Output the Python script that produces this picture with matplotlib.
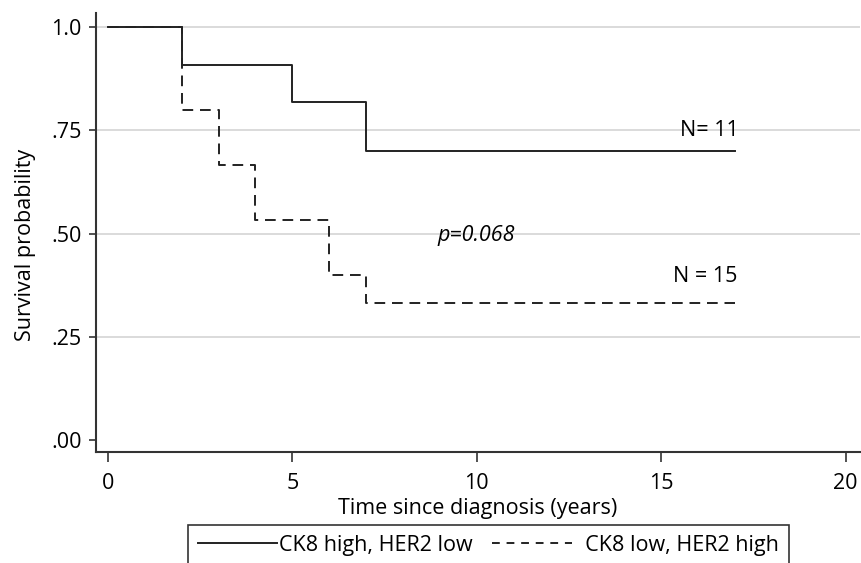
import matplotlib.pyplot as plt
from matplotlib.lines import Line2D

# Kaplan-Meier step data
t_high = [0, 2, 5, 7, 17]
s_high = [1.0, 0.909, 0.818, 0.701, 0.701]
t_low = [0, 2, 3, 4, 6, 7, 17]
s_low = [1.0, 0.80, 0.667, 0.533, 0.40, 0.333, 0.333]

yticks = [0, 0.25, 0.5, 0.75, 1.0]
ytick_labels = ['.00', '.25', '.50', '.75', '1.0']
xticks = [0, 5, 10, 15, 20]
groups = ['CK8 high, HER2 low', '  CK8 low, HER2 high']

plt.rcParams['font.family'] = ['Open Sans', 'DejaVu Sans']
fs = 15.5

fig = plt.figure(figsize=(8.62, 5.63), dpi=100)
ax = fig.add_axes([0.111, 0.197, 0.887, 0.78])

for y in [0.25, 0.5, 0.75, 1.0]:
    ax.axhline(y, color='#d4d4d4', lw=1.2, zorder=0)

ax.step(t_high, s_high, where='post', color='#222222', lw=1.4)
ax.step(t_low, s_low, where='post', color='#222222', lw=1.4, linestyle=(0, (5.5, 3.5)))

ax.text(16.3, 0.75, 'N= 11', fontsize=fs, ha='center', va='center')
ax.text(10.0, 0.496, 'p=0.068', fontsize=fs, style='italic', ha='center', va='center')
ax.text(16.2, 0.395, 'N = 15', fontsize=fs, ha='center', va='center')

ax.set_xlim(-0.33, 20.4)
ax.set_ylim(-0.029, 1.034)
ax.set_xticks(xticks)
ax.set_yticks(yticks)
ax.set_yticklabels(ytick_labels)
ax.tick_params(labelsize=fs, width=1.2, color='#333333')
ax.tick_params(axis='x', length=7, pad=8)
ax.tick_params(axis='y', length=5, pad=5)
ax.set_xlabel('Time since diagnosis (years)', fontsize=fs, labelpad=3)
fig.text(26 / 862, 1 - 245 / 563, 'Survival probability', fontsize=fs,
         rotation=90, ha='center', va='center')

for side in ['top', 'right']:
    ax.spines[side].set_visible(False)
for side in ['left', 'bottom']:
    ax.spines[side].set_linewidth(1.5)
    ax.spines[side].set_color('#333333')

# legend handles with the short dashes of the original key
h1 = Line2D([], [], color='#222222', lw=1.4)
h2 = Line2D([], [], color='#222222', lw=1.4, linestyle=(0, (4, 3.5)))
leg = fig.legend([h1, h2], groups,
                 loc='upper left', bbox_to_anchor=(188 / 862, 1 - 525 / 563),
                 ncol=2, fontsize=fs, handlelength=3.7, handletextpad=0.1,
                 columnspacing=0.9, frameon=True, fancybox=False,
                 borderpad=0.45, borderaxespad=0)
leg.get_frame().set_edgecolor('black')
leg.get_frame().set_linewidth(1.2)

fig.savefig('out.png', dpi=100)
